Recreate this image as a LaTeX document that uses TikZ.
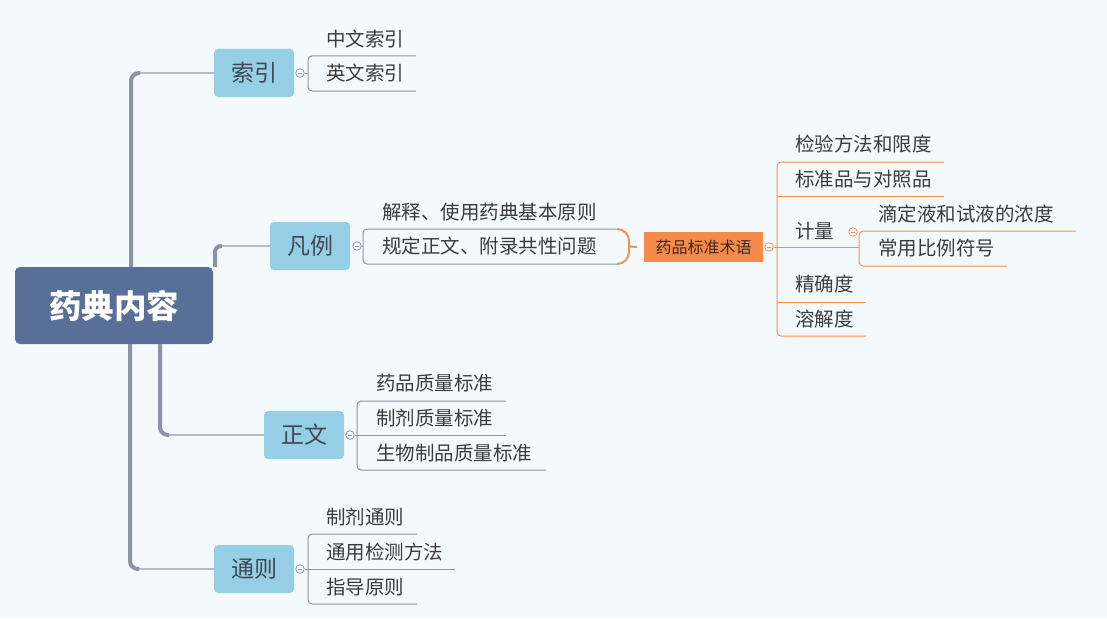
\documentclass[tikz,border=0pt]{standalone}
\usepackage{fontspec}
\newfontfamily\cjk{Noto Sans CJK SC}
\definecolor{bgc}{HTML}{F4F9FD}
\definecolor{rootc}{HTML}{5A6F97}
\definecolor{l1c}{HTML}{96CFE5}
\definecolor{l1t}{HTML}{404852}
\definecolor{leaft}{HTML}{3C3C3C}
\definecolor{trunkc}{HTML}{8A94A6}
\definecolor{branchc}{HTML}{B5BDCA}
\definecolor{gl}{HTML}{8C94A6}
\definecolor{orb}{HTML}{F68A4B}
\definecolor{ol}{HTML}{F5924F}
\definecolor{termt}{HTML}{3A2A20}
\begin{document}
\begin{tikzpicture}[x=1pt,y=-1pt,
 root/.style={fill=rootc, rounded corners=5pt, minimum width=198pt, minimum height=77pt, inner sep=0pt, text=white, font=\cjk\bfseries\fontsize{32.5}{36}\selectfont},
 lone/.style={fill=l1c, rounded corners=4pt, minimum width=80pt, minimum height=48pt, inner sep=0pt, text=l1t, font=\cjk\fontsize{23}{26}\selectfont},
 leaf/.style={anchor=west, inner sep=0pt, text=leaft, font=\cjk\fontsize{19.5}{22}\selectfont},
 term/.style={fill=orb, minimum width=119pt, minimum height=30pt, inner sep=0pt, text=termt, font=\cjk\fontsize{16}{18}\selectfont},
 tog/.style={circle, draw=#1, fill=bgc, line width=0.8pt, minimum size=8.5pt, inner sep=0pt, path picture={\draw[#1, line width=0.8pt] ([xshift=-2.2pt]path picture bounding box.center) -- ([xshift=2.2pt]path picture bounding box.center);}},
 trunk/.style={draw=trunkc, line width=4pt, rounded corners=8pt},
 branch/.style={draw=branchc, line width=2pt},
 gline/.style={draw=gl, line width=1pt, rounded corners=4pt},
 oline/.style={draw=ol, line width=1pt, rounded corners=4pt},
]
\fill[bgc] (0,0) rectangle (1107,618);
\useasboundingbox (0,0) rectangle (1107,618);

% level 1 boxes
\node[lone] (suoyin) at (254,73) {索引};
\node[lone] (fanli) at (310,246) {凡例};
\node[lone] (zhengwen) at (304,435) {正文};
\node[lone] (tongze) at (254,569) {通则};

% trunks
\coordinate (a1) at (131,267); \coordinate (a1e) at (140,73);
\coordinate (a2) at (215,267); \coordinate (a2e) at (222,246);
\coordinate (a3) at (160,344); \coordinate (a3e) at (169,435);
\coordinate (a4) at (130,344); \coordinate (a4e) at (139,569);
\draw[branch] (a1e) -- (suoyin.west);
\draw[branch] (a2e) -- (fanli.west);
\draw[branch] (a3e) -- (zhengwen.west);
\draw[branch] (a4e) -- (tongze.west);
\draw[trunk] (a1) |- (a1e);
\draw[trunk, rounded corners=6pt] (a2) |- (a2e);
\draw[trunk] (a3) |- (a3e);
\draw[trunk] (a4) |- (a4e);

% root
\node[root] (root) at (114,305.5) {药典内容};

% toggles
\node[tog=gl] (ts) at (300,73) {};
\node[tog=gl] (tf) at (357,246) {};
\node[tog=gl] (tz) at (350,435) {};
\node[tog=gl] (tt) at (300,569) {};

% 索引 children
\draw[gline] (ts.east) -- (308,73);
\draw[gline] (416,56) -- (308,56) -- (308,91) -- (416,91);
\node[leaf] (s1) at (326,39) {中文索引};
\node[leaf] (s2) at (326,73) {英文索引};

% 凡例 children
\draw[gline] (tf.east) -- (363,246);
\draw[gline] (617,229) -- (363,229) -- (363,264) -- (617,264);
\node[leaf] (f1) at (382,212) {解释、使用药典基本原则};
\node[leaf] (f2) at (382,246) {规定正文、附录共性问题};

% summary bracket and term
\node[term] (term) at (703.5,247) {药品标准术语};
\coordinate (bt) at (617,229); \coordinate (bb) at (617,264); \coordinate (bm) at (629,246.5);
\draw[draw=ol, line width=2pt] (bt) to[out=0,in=90] (629,241) -- (629,252) to[out=-90,in=0] (bb);
\draw[draw=ol, line width=2pt] (bm) -- (term.west -| 637,0);
\node[tog=ol] (tm) at (769,247) {};
\draw[oline] (tm.east) -- (859,247);
\draw[oline] (944,162) -- (777,162) -- (777,336) -- (866,336);
\draw[oline] (777,196) -- (944,196);
\draw[oline] (777,302) -- (866,302);
\node[leaf] (m1) at (795,144) {检验方法和限度};
\node[leaf] (m2) at (795,179) {标准品与对照品};
\node[leaf] (m3) at (795,231) {计量};
\node[leaf] (m4) at (795,284) {精确度};
\node[leaf] (m5) at (795,319) {溶解度};
\node[tog=ol] (tj) at (853,232) {};
\draw[oline] (1076,231) -- (859,231) -- (859,266) -- (1007,266);
\node[leaf] (j1) at (878,214) {滴定液和试液的浓度};
\node[leaf] (j2) at (878,248) {常用比例符号};

% 正文 children
\draw[gline] (tz.east) -- (506,435);
\draw[gline] (506,401) -- (357,401) -- (357,470) -- (546,470);
\node[leaf] (z1) at (376,383) {药品质量标准};
\node[leaf] (z2) at (376,418) {制剂质量标准};
\node[leaf] (z3) at (376,453) {生物制品质量标准};

% 通则 children
\draw[gline] (tt.east) -- (455,569);
\draw[gline] (417,534) -- (308,534) -- (308,604) -- (417,604);
\node[leaf] (g1) at (326,517) {制剂通则};
\node[leaf] (g2) at (326,552) {通用检测方法};
\node[leaf] (g3) at (326,587) {指导原则};
\end{tikzpicture}
\end{document}
